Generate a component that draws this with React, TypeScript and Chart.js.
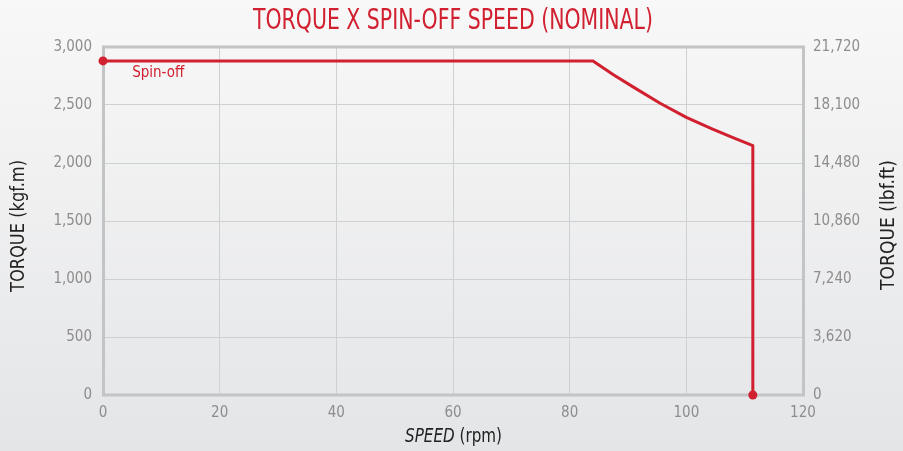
import React, { useEffect, useRef } from "react";
import { Chart, registerables } from "chart.js";

Chart.register(...registerables);

const TITLE = "TORQUE X SPIN-OFF SPEED (NOMINAL)";
const X_TITLE_ITALIC = "SPEED";
const X_TITLE_REST = " (rpm)";
const Y_TITLE = "TORQUE (kgf.m)";
const Y2_TITLE = "TORQUE (lbf.ft)";
const SERIES_LABEL = "Spin-off";

const speedRpm = [0, 84, 87.5, 91, 95.5, 100, 104.5, 108, 111.4, 111.4];
const torqueKgfm = [2880, 2880, 2760, 2652, 2515, 2393, 2292, 2218, 2150, 0];

const xTicks = [0, 20, 40, 60, 80, 100, 120];
const yTicks = [0, 500, 1000, 1500, 2000, 2500, 3000];
const y2Ticks = [0, 3620, 7240, 10860, 14480, 18100, 21720];

const RED = "#d1202f";
const FONT = "'Liberation Sans Narrow', 'DejaVu Sans Condensed', 'Roboto', sans-serif";

function drawFitText(ctx: CanvasRenderingContext2D, text: string, x: number, y: number, width: number) {
  const w = ctx.measureText(text).width;
  ctx.save();
  ctx.translate(x, y);
  ctx.scale(width / w, 1);
  ctx.fillText(text, 0, 0);
  ctx.restore();
}

const decorPlugin = {
  id: "decor",
  beforeDraw(chart: any) {
    const { ctx, width, height } = chart;
    ctx.save();
    const g = ctx.createLinearGradient(0, 0, 0, height);
    g.addColorStop(0, "#f8f8f8");
    g.addColorStop(1, "#e4e5e7");
    ctx.fillStyle = g;
    ctx.fillRect(0, 0, width, height);
    ctx.restore();
  },
  beforeDatasetsDraw(chart: any) {
    const { ctx, chartArea: a } = chart;
    ctx.save();
    ctx.strokeStyle = "#c3c4c6";
    ctx.lineWidth = 3;
    ctx.strokeRect(a.left + 0.5, a.top, a.right - a.left, a.bottom - a.top);
    ctx.restore();
  },
  afterDraw(chart: any) {
    const { ctx, scales } = chart;
    ctx.save();
    // title
    ctx.fillStyle = RED;
    ctx.textBaseline = "middle";
    ctx.textAlign = "left";
    ctx.font = `28px ${FONT}`;
    drawFitText(ctx, TITLE, 253, 22, 400);

    // x title
    ctx.fillStyle = "#222";
    ctx.font = `italic 19px ${FONT}`;
    const w1 = ctx.measureText(X_TITLE_ITALIC).width;
    ctx.font = `19px ${FONT}`;
    const w2 = ctx.measureText(X_TITLE_REST).width;
    const sx = 97 / (w1 + w2);
    ctx.save();
    ctx.translate(405, 437);
    ctx.scale(sx, 1);
    ctx.font = `italic 19px ${FONT}`;
    ctx.fillText(X_TITLE_ITALIC, 0, 0);
    ctx.font = `19px ${FONT}`;
    ctx.fillText(X_TITLE_REST, w1, 0);
    ctx.restore();

    // y titles
    ctx.font = `19px ${FONT}`;
    ctx.textAlign = "left";
    ctx.save();
    ctx.translate(19, 226);
    ctx.rotate(-Math.PI / 2);
    drawFitText(ctx, Y_TITLE, -66, 0, 132);
    ctx.restore();
    ctx.save();
    ctx.translate(889, 225);
    ctx.rotate(-Math.PI / 2);
    drawFitText(ctx, Y2_TITLE, -65, 0, 130);
    ctx.restore();

    // series label
    ctx.fillStyle = RED;
    ctx.font = `15px ${FONT}`;
    ctx.textAlign = "left";
    ctx.fillText(SERIES_LABEL, scales.x.getPixelForValue(5), scales.y.getPixelForValue(2880) + 12);
    ctx.restore();
  },
};

export default function App() {
  const ref = useRef<HTMLCanvasElement | null>(null);
  useEffect(() => {
    document.body.style.margin = "0";
    const canvas = ref.current!;
    const fixTicks = (vals: number[]) => (scale: any) => {
      scale.ticks = vals.map((v) => ({ value: v }));
    };
    const tickFont = { family: FONT, size: 15 };
    const tickColor = "#8d8d8d";
    const chart = new Chart(canvas, {
      type: "line",
      data: {
        datasets: [
          {
            label: SERIES_LABEL,
            data: speedRpm.map((s, i) => ({ x: s, y: torqueKgfm[i] })),
            borderColor: RED,
            backgroundColor: RED,
            borderWidth: 3,
            pointRadius: (c: any) => (c.dataIndex === 0 || c.dataIndex === speedRpm.length - 1 ? 4.5 : 0),
            pointBorderWidth: 0,
            tension: 0,
            borderJoinStyle: "round",
            clip: false as any,
            yAxisID: "y",
          },
        ],
      },
      options: {
        responsive: false,
        animation: false,
        layout: { padding: { top: 47, left: 0, right: 0, bottom: 0 } },
        plugins: { legend: { display: false }, tooltip: { enabled: false }, title: { display: false } },
        scales: {
          x: {
            type: "linear",
            min: 0,
            max: 120,
            afterBuildTicks: fixTicks(xTicks),
            afterFit: (s: any) => {
              s.height = 56;
            },
            grid: { color: "#cfd0d2", lineWidth: 1, drawTicks: false },
            border: { display: false },
            ticks: { color: tickColor, font: tickFont, padding: 9, maxRotation: 0 },
          },
          y: {
            type: "linear",
            position: "left",
            min: 0,
            max: 3000,
            afterBuildTicks: fixTicks(yTicks),
            afterFit: (s: any) => {
              s.width = 103;
            },
            grid: { color: "#cfd0d2", lineWidth: 1, drawTicks: false },
            border: { display: false },
            ticks: { color: tickColor, font: tickFont, padding: 11 },
          },
          y2: {
            type: "linear",
            position: "right",
            min: 0,
            max: 21720,
            afterBuildTicks: fixTicks(y2Ticks),
            afterFit: (s: any) => {
              s.width = 100;
            },
            grid: { display: false, drawTicks: false },
            border: { display: false },
            ticks: { color: tickColor, font: tickFont, padding: 10 },
          },
        },
      },
      plugins: [decorPlugin],
    } as any);
    return () => chart.destroy();
  }, []);
  return (
    <div style={{ position: "fixed", left: 0, top: 0, width: 903, height: 451 }}>
      <canvas ref={ref} width={903} height={451} style={{ display: "block", width: 903, height: 451 }} />
    </div>
  );
}
